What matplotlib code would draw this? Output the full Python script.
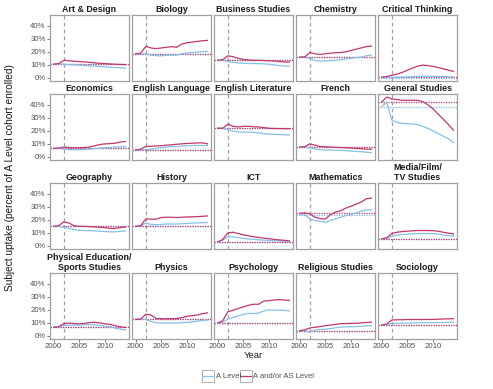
import matplotlib
matplotlib.use("Agg")
import matplotlib.pyplot as plt
from matplotlib.lines import Line2D
from matplotlib.patches import Rectangle

plt.rcParams['font.family'] = ['Liberation Sans', 'DejaVu Sans']

years = list(range(2000, 2015))
policy_year = 2002
subjects = ["Art & Design", "Biology", "Business Studies", "Chemistry", "Critical Thinking",
            "Economics", "English Language", "English Literature", "French", "General Studies",
            "Geography", "History", "ICT", "Mathematics", "Media/Film/\nTV Studies",
            "Physical Education/\nSports Studies", "Physics", "Psychology", "Religious Studies", "Sociology"]

# A and/or AS Level (percent)
a_as_level = [
    [10.5, 11, 13.5, 13.2, 12.8, 12.5, 12.3, 12, 11.5, 11.2, 11, 10.7, 10.5, 10.3, 10.2],
    [18.5, 19, 24.2, 23, 22.5, 23, 23.5, 24, 23.5, 26, 27, 27.5, 28, 28.5, 28.8],
    [13.5, 14, 17, 16.3, 15, 14.2, 13.8, 13.5, 13.5, 13.3, 13.2, 13, 12.5, 12.2, 12.2],
    [16, 16, 19.5, 18.5, 18, 18.5, 19, 19.3, 19.5, 20, 21, 22, 23, 24, 24.5],
    [0.5, 1, 2, 3, 4.2, 5.8, 7.5, 9, 9.8, 9.5, 8.8, 8, 7, 6, 5],
    [6.5, 6.8, 7.5, 7.2, 7, 7, 7.2, 7.5, 8.5, 9.5, 10, 10.2, 10.5, 11.5, 11.8],
    [5.3, 6, 8, 8.2, 8.4, 8.6, 9, 9.3, 9.7, 10, 10.3, 10.5, 10.7, 10.8, 10],
    [22, 22, 25.3, 23.5, 23, 23.5, 23.5, 23.2, 23, 22.5, 22, 21.8, 21.7, 21.7, 21.6],
    [7.6, 7.8, 10, 9, 8, 7.8, 7.5, 7.3, 7.2, 7, 6.8, 6.5, 6.3, 6, 5.8],
    [42, 46, 44.5, 44, 43.5, 43.5, 43.5, 43.5, 42.5, 40, 37, 33, 29, 25, 20.5],
    [15, 15.5, 18.5, 17.5, 15.5, 15, 15, 14.8, 14.6, 14.3, 14, 13.5, 13.5, 14, 14.5],
    [15, 15.5, 20.8, 20.5, 20.5, 21.8, 22, 22, 21.8, 22, 22.2, 22.3, 22.5, 22.7, 23],
    [3, 5, 10, 10.5, 9.5, 8.5, 7.8, 7, 6.5, 6, 5.5, 5, 4.6, 4.3, 3.8],
    [25, 25.4, 24.6, 22, 21, 20.5, 24, 26, 27, 29, 30.5, 32, 33.6, 36.2, 36.7],
    [5.4, 6.2, 9.5, 10.5, 11, 11.3, 11.6, 11.8, 11.8, 11.8, 11.7, 11.3, 10.5, 9.8, 9.2],
    [6.6, 7, 9.5, 9.8, 9.5, 9.2, 9.6, 10.2, 10.4, 10, 9.3, 8.8, 7.8, 7, 6.5],
    [12.7, 12.9, 16.7, 16, 13.4, 13.2, 13.2, 13.2, 13.3, 14, 15, 15.5, 16, 17, 17.7],
    [9.9, 11.6, 18.5, 19.7, 21, 22.3, 23.5, 24.3, 24.3, 26.8, 27, 27.6, 27.8, 27.6, 27.3],
    [4, 4.6, 6.1, 6.6, 7.2, 7.8, 8.3, 8.8, 9.4, 9.5, 9.6, 9.6, 10, 10.3, 10.6],
    [8.4, 9.1, 12.2, 12.4, 12.4, 12.6, 12.6, 12.6, 12.6, 12.6, 12.7, 12.8, 13, 13.1, 13.2],
]

# A Level only (percent)
a_level = [
    [10.5, 10.8, 10.5, 10.2, 10, 9.8, 9.5, 9.3, 9, 8.8, 8.5, 8.2, 8, 7.8, 7.5],
    [18.5, 18.5, 18.5, 17.5, 17, 17, 17.3, 17.5, 17.5, 18.5, 19, 19.5, 19.8, 20.2, 20.3],
    [13.5, 13.5, 12.5, 12, 11.5, 11.2, 11, 11, 11, 10.8, 10.5, 10, 9.5, 9.2, 9],
    [16, 16, 14.8, 13.5, 12.8, 13, 13.3, 13.5, 14, 14.5, 15, 15.5, 16, 17, 17.5],
    [0.3, 0.3, 0.4, 0.5, 0.6, 0.8, 1, 1.2, 1.3, 1.3, 1.2, 1.1, 1, 0.9, 0.8],
    [6.5, 6.5, 6, 5.6, 5.4, 5.5, 5.8, 6, 6.3, 6.8, 7, 7.3, 7.6, 7.8, 8],
    [5.3, 5.5, 5.5, 6, 6.5, 7, 7.5, 8, 8, 8.3, 8.5, 8.7, 8.8, 8.8, 8.6],
    [22, 22, 21, 19.8, 19.2, 19, 19, 18.8, 18.5, 17.8, 17.5, 17.3, 17.2, 17, 16.8],
    [7.6, 7.6, 7, 6, 5.5, 5.3, 5.2, 5.1, 5, 4.8, 4.5, 4.2, 4, 3.6, 3.3],
    [38.5, 42, 28, 26.5, 25.8, 25.5, 25.3, 24.8, 23.5, 22, 20, 18, 16, 14, 11],
    [15, 15, 14.3, 13.5, 12.5, 12, 11.8, 11.7, 11.5, 11.3, 11, 10.8, 10.8, 11.2, 11.5],
    [15, 15.5, 17.5, 16.5, 16.3, 16.5, 16.8, 16.8, 16.8, 17, 17.2, 17.5, 17.7, 17.8, 18],
    [3, 4.3, 7, 7, 6.3, 5.8, 5.3, 5, 4.7, 4.4, 4.2, 4, 3.8, 3.6, 3.3],
    [23.6, 24, 20.8, 19.5, 19, 18.2, 19.5, 20.8, 22, 23.3, 24, 25.4, 26.7, 27.4, 27.7],
    [5.4, 5.8, 7.4, 8.2, 8.7, 9, 9.3, 9.5, 9.5, 9.5, 9.4, 9, 8.4, 7.8, 7.4],
    [6.6, 7, 8, 8.2, 8.3, 8.3, 8.5, 8.5, 8.4, 8.2, 7.6, 7, 6, 5.2, 4.6],
    [12.7, 12.7, 12.7, 11.1, 10, 9.9, 9.8, 9.8, 9.9, 10.2, 10.4, 10.8, 11.3, 11.8, 12.2],
    [9.9, 10.5, 12.9, 14.2, 15.4, 16.5, 17.2, 17.2, 17.5, 19.2, 20, 19.8, 19.7, 19.6, 19.2],
    [4, 4, 2.8, 4.6, 4.9, 5.1, 5.6, 6.2, 6.8, 6.9, 7, 7.1, 7.4, 7.6, 7.8],
    [8.4, 8.6, 9.6, 9.7, 9.8, 9.9, 10, 10, 10.1, 10.1, 10.2, 10.2, 10.3, 10.4, 10.4],
]

y_ticks = [0, 10, 20, 30, 40]
y_tick_labels = ["0%", "10%", "20%", "30%", "40%"]
x_ticks = [2000, 2005, 2010]
legend_labels = ["A Level", "A and/or AS Level"]

BLUE = "#86bfe8"
PINK = "#c2356e"
FRAME = "#a0a0a0"
TXT = "#4d4d4d"

W, H = 493, 389
fig = plt.figure(figsize=(W / 100, H / 100), dpi=100)

col_left = [50, 132, 214, 296, 378]
col_w = 79
row_top = [15, 94, 183, 273]
row_h = 65.5

for i, subj in enumerate(subjects):
    r, c = divmod(i, 5)
    left = col_left[c] / W
    bottom = 1 - (row_top[r] + row_h) / H
    ax = fig.add_axes([left, bottom, col_w / W, row_h / H])
    ax.set_xlim(1999.3, 2014.7)
    ax.set_ylim(-2.0, 48.3)
    ax.axvline(policy_year, color="#a0a0a0", lw=0.9, ls=(0, (3, 2.5)), zorder=1)
    ax.axhline(a_level[i][0], color=BLUE, lw=0.9, ls=(0, (1, 1)), zorder=2)
    ax.axhline(a_as_level[i][0], color=PINK, lw=0.9, ls=(0, (1, 1)), zorder=2)
    ax.plot(years, a_level[i], color=BLUE, lw=0.9, zorder=3)
    ax.plot(years, a_as_level[i], color=PINK, lw=0.9, zorder=4)
    for s in ax.spines.values():
        s.set_color(FRAME)
        s.set_linewidth(0.9)
    ax.set_yticks(y_ticks)
    ax.set_xticks(x_ticks)
    ax.tick_params(axis='both', length=2, width=0.6, color="#666666", labelsize=5.6,
                   labelcolor=TXT, pad=1.2)
    if c == 0:
        ax.set_yticklabels(y_tick_labels)
    else:
        ax.tick_params(axis='y', left=False, labelleft=False)
    if r == 3:
        ax.set_xticklabels([str(x) for x in x_ticks])
    else:
        ax.tick_params(axis='x', bottom=False, labelbottom=False)
    ax.set_title(subj, fontsize=6.4, fontweight='bold', color="#1a1a1a", pad=2.5,
                 linespacing=1.05)

# axis labels
fig.text(10 / W, 1 - 178 / H, "Subject uptake (percent of A Level cohort enrolled)",
         rotation=90, ha='center', va='center', fontsize=7.3, color="#1a1a1a")
fig.text(253.5 / W, 1 - 355 / H, "Year", ha='center', va='center', fontsize=6.8,
         color="#1a1a1a")

# legend (ggplot-style keys)
ly = 1 - 376 / H
keys = [(202, BLUE, legend_labels[0]), (239.5, PINK, legend_labels[1])]
for kx, col, lab in keys:
    fig.patches.append(Rectangle((kx / W, ly - 6 / H), 12 / W, 12 / H,
                                 transform=fig.transFigure, facecolor='white',
                                 edgecolor="#b0b0b0", lw=0.7))
    fig.lines.append(Line2D([(kx + 1) / W, (kx + 11) / W], [ly, ly],
                            transform=fig.transFigure, color=col, lw=0.9))
    fig.text((kx + 13.5) / W, ly, lab, ha='left', va='center', fontsize=5.5, color=TXT)

fig.savefig("out.png", dpi=100)
